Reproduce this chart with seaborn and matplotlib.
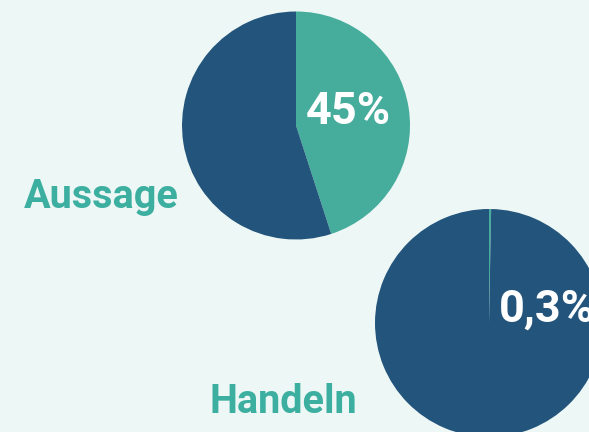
import matplotlib
matplotlib.use("Agg")
import matplotlib.pyplot as plt
import seaborn as sns

# data
categories = ["Aussage", "Handeln"]
shares = [45, 0.3]
share_labels = ["45%", "0,3%"]

# colours
bg = "#EDF7F5"
teal = "#46AC9C"
navy = "#23547C"
label_teal = "#3DAFA0"

sns.set_style("white")
plt.rcParams["font.family"] = ["Roboto", "DejaVu Sans"]

W, H = 589, 432
fig = plt.figure(figsize=(W / 100, H / 100), dpi=100, facecolor=bg)

# pie centres / radius in pixels (top-left origin)
centres = [(296, 125.5), (489, 323)]
radius = 114
# category label anchors (left x, baseline y)
label_pos = [(24, 208), (209, 413)]

for cat, share, lab, (cx, cy), (lx, ly) in zip(categories, shares, share_labels, centres, label_pos):
    ax = fig.add_axes([(cx - radius) / W, (H - cy - radius) / H, 2 * radius / W, 2 * radius / H])
    ax.pie([share, 100 - share], colors=[teal, navy], startangle=90, counterclock=False,
           radius=1, wedgeprops=dict(linewidth=0))
    ax.set_xlim(-1, 1)
    ax.set_ylim(-1, 1)
    ax.set_aspect("equal")
    ax.axis("off")
    ax.text(0.085, 0.12, lab, color="white", fontsize=32.5, fontweight="bold",
            ha="left", va="center")
    fig.text(lx / W, (H - ly) / H, cat, color=label_teal, fontsize=28.5, fontweight="bold",
             ha="left", va="baseline")

fig.savefig("out.png", dpi=100, facecolor=bg)
